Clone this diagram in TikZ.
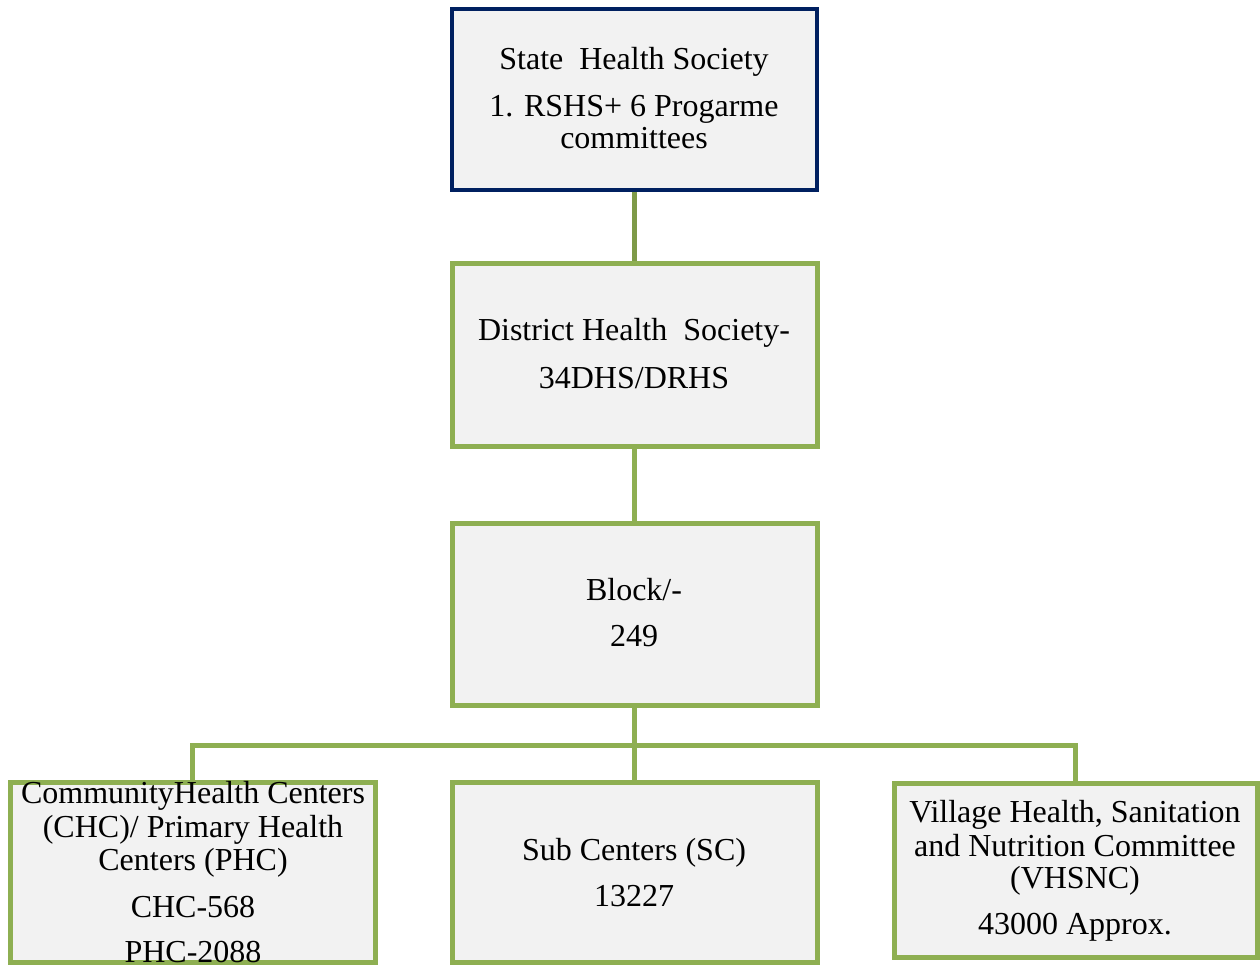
\documentclass[tikz,border=0pt]{standalone}
\usepackage{fontspec}
\setmainfont{Liberation Serif}
\definecolor{navy}{HTML}{002060}
\definecolor{leaf}{HTML}{8EAF52}
\definecolor{leafdark}{HTML}{7E9A48}
\definecolor{boxfill}{HTML}{F2F2F2}
\begin{document}
\begin{tikzpicture}[x=1pt,y=-1pt,
  box/.style={draw=leaf, line width=5pt, fill=boxfill, rectangle, inner sep=0pt, outer sep=0pt},
  topbox/.style={box, draw=navy, line width=4pt},
  link/.style={draw=leaf, line width=5pt},
  txt/.style={anchor=base, inner sep=0pt, font=\fontsize{32}{33}\selectfont}]
\useasboundingbox (0,0) rectangle (1260,965);

% box positions (empty placeholders, used to route the connectors)
\coordinate (bus) at (634,745);
\node[minimum width=365, minimum height=181, inner sep=0pt, outer sep=0pt] (state) at (634.5,99.5) {};
\node[minimum width=365, minimum height=182, inner sep=0pt, outer sep=0pt] (dist) at (634.5,355) {};
\node[minimum width=365, minimum height=182, inner sep=0pt, outer sep=0pt] (block) at (634.5,614) {};
\node[minimum width=365, minimum height=180, inner sep=0pt, outer sep=0pt] (chc) at (192.5,872) {};
\node[minimum width=365, minimum height=180, inner sep=0pt, outer sep=0pt] (sc) at (634.5,872) {};
\node[minimum width=363, minimum height=174, inner sep=0pt, outer sep=0pt] (vh) at (1075.5,870) {};

% connectors
\draw[link, draw=leafdark] (state.south) -- (dist.north);
\draw[link] (dist.south) -- (block.north);
\draw[link] (block.south) -- (sc.north);
\draw[link, line join=miter] (chc.north) |- (bus) -| (vh.north);

% boxes, drawn over the connector ends
\node[topbox, minimum width=365, minimum height=181] (statebox) at (state) {};
\node[box, minimum width=365, minimum height=182] (distbox) at (dist) {};
\node[box, minimum width=365, minimum height=182] (blockbox) at (block) {};
\node[box, minimum width=365, minimum height=180] (chcbox) at (chc) {};
\node[box, minimum width=365, minimum height=180] (scbox) at (sc) {};
\node[box, minimum width=363, minimum height=174] (vhbox) at (vh) {};

% box texts
\node[txt] (s1) at (634,70) {State\ \ Health Society};
\node[txt] (s2) at (634,117) {1. RSHS+ 6 Progarme};
\node[txt] (s3) at (634,149) {committees};

\node[txt] (d1) at (634,341) {District Health\ \ Society-};
\node[txt] (d2) at (634,388) {34DHS/DRHS};

\node[txt] (b1) at (634,600) {Block/-};
\node[txt] (b2) at (634,646) {249};

\node[txt] (c1) at (193,803) {CommunityHealth Centers};
\node[txt] (c2) at (193,837) {(CHC)/ Primary Health};
\node[txt] (c3) at (193,870) {Centers (PHC)};
\node[txt] (c4) at (193,917) {CHC-568};
\node[txt] (c5) at (193,962) {PHC-2088};

\node[txt] (m1) at (634,860) {Sub Centers (SC)};
\node[txt] (m2) at (634,906) {13227};

\node[txt] (v1) at (1075,822) {Village Health, Sanitation};
\node[txt] (v2) at (1075,856) {and Nutrition Committee};
\node[txt] (v3) at (1075,888) {(VHSNC)};
\node[txt] (v4) at (1075,934) {43000 Approx.};
\end{tikzpicture}
\end{document}
